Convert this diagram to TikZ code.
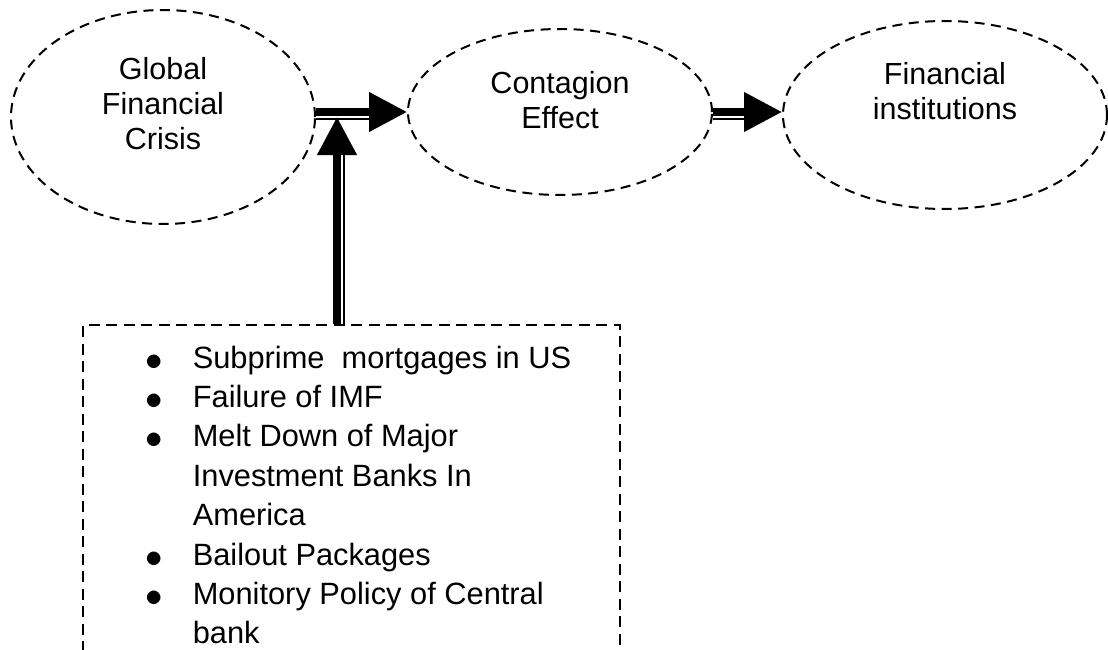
\documentclass[tikz,border=0pt]{standalone}
\usepackage{fontspec}
\setmainfont{Liberation Sans}
\usetikzlibrary{shapes.geometric,arrows.meta,positioning,calc}

\begin{document}
\begin{tikzpicture}[x=1pt, y=-1pt,
    oval/.style={ellipse, draw, line width=2pt, dash pattern=on 10pt off 6.5pt, inner sep=0pt},
    ovaltext/.style={align=center, font=\fontsize{30.5}{35}\selectfont},
    listbox/.style={rectangle, draw, line width=2pt, dash pattern=on 11pt off 6.5pt, inner sep=0pt},
    fat/.style={line width=7.5pt, -{Triangle[length=38pt, width=38pt]}},
    slim/.style={line width=2pt}]
    \useasboundingbox (0,0) rectangle (1108,650);
    \clip (0,0) rectangle (1108,650);

    % Ellipses
    \node[oval, minimum width=304pt, minimum height=214pt,
          label={[ovaltext, yshift=13pt]center:{Global\\Financial\\Crisis}}] (gfc) at (163,117) {};
    \node[oval, minimum width=304pt, minimum height=166pt,
          label={[ovaltext, yshift=12pt]center:{Contagion\\Effect}}] (ce) at (560,112) {};
    \node[oval, minimum width=324pt, minimum height=188pt,
          label={[ovaltext, yshift=24pt]center:{Financial\\institutions}}] (fi) at (945,115) {};

    % Causes
    \node[listbox, minimum width=537pt, minimum height=360pt, anchor=north west] (box) at (82,324) {};
    \node[anchor=north west, inner sep=0pt, font=\fontsize{30.8}{39.4}\selectfont]
        (causes) at ([xshift=63pt, yshift=-16.4pt]box.north west) {%
        \begin{tabular}{@{}c@{\hspace{30.2pt}}l@{}}
            \raisebox{-2pt}{\scalebox{1.4}{$\bullet$}} & Subprime\ \ mortgages in US\\
            \raisebox{-2pt}{\scalebox{1.4}{$\bullet$}} & Failure of IMF\\
            \raisebox{-2pt}{\scalebox{1.4}{$\bullet$}} & Melt Down of Major\\
                      & Investment Banks In\\
                      & America\\
            \raisebox{-2pt}{\scalebox{1.4}{$\bullet$}} & Bailout Packages\\
            \raisebox{-2pt}{\scalebox{1.4}{$\bullet$}} & Monitory Policy of Central\\
                      & bank
        \end{tabular}};

    % Arrows
    \coordinate (a1) at (gfc.east |- ce.west);
    \coordinate (a2) at (fi.west |- ce.east);
    \coordinate (b0) at ([xshift=-14.5pt]box.north);
    \coordinate (a3) at (b0 |- gfc.east);

    \draw[fat] (a1) -- (ce.west);
    \draw[slim] ([yshift=-7pt]a1) -- ([xshift=-38pt, yshift=-7pt]ce.west);
    \draw[fat] (ce.east) -- (a2);
    \draw[slim] ([yshift=-7pt]ce.east) -- ([xshift=-38pt, yshift=-7pt]a2);
    \draw[fat] (b0) -- (a3);
    \draw[slim] ([xshift=7pt]b0) -- ([xshift=7pt, yshift=-38pt]a3);
\end{tikzpicture}
\end{document}
